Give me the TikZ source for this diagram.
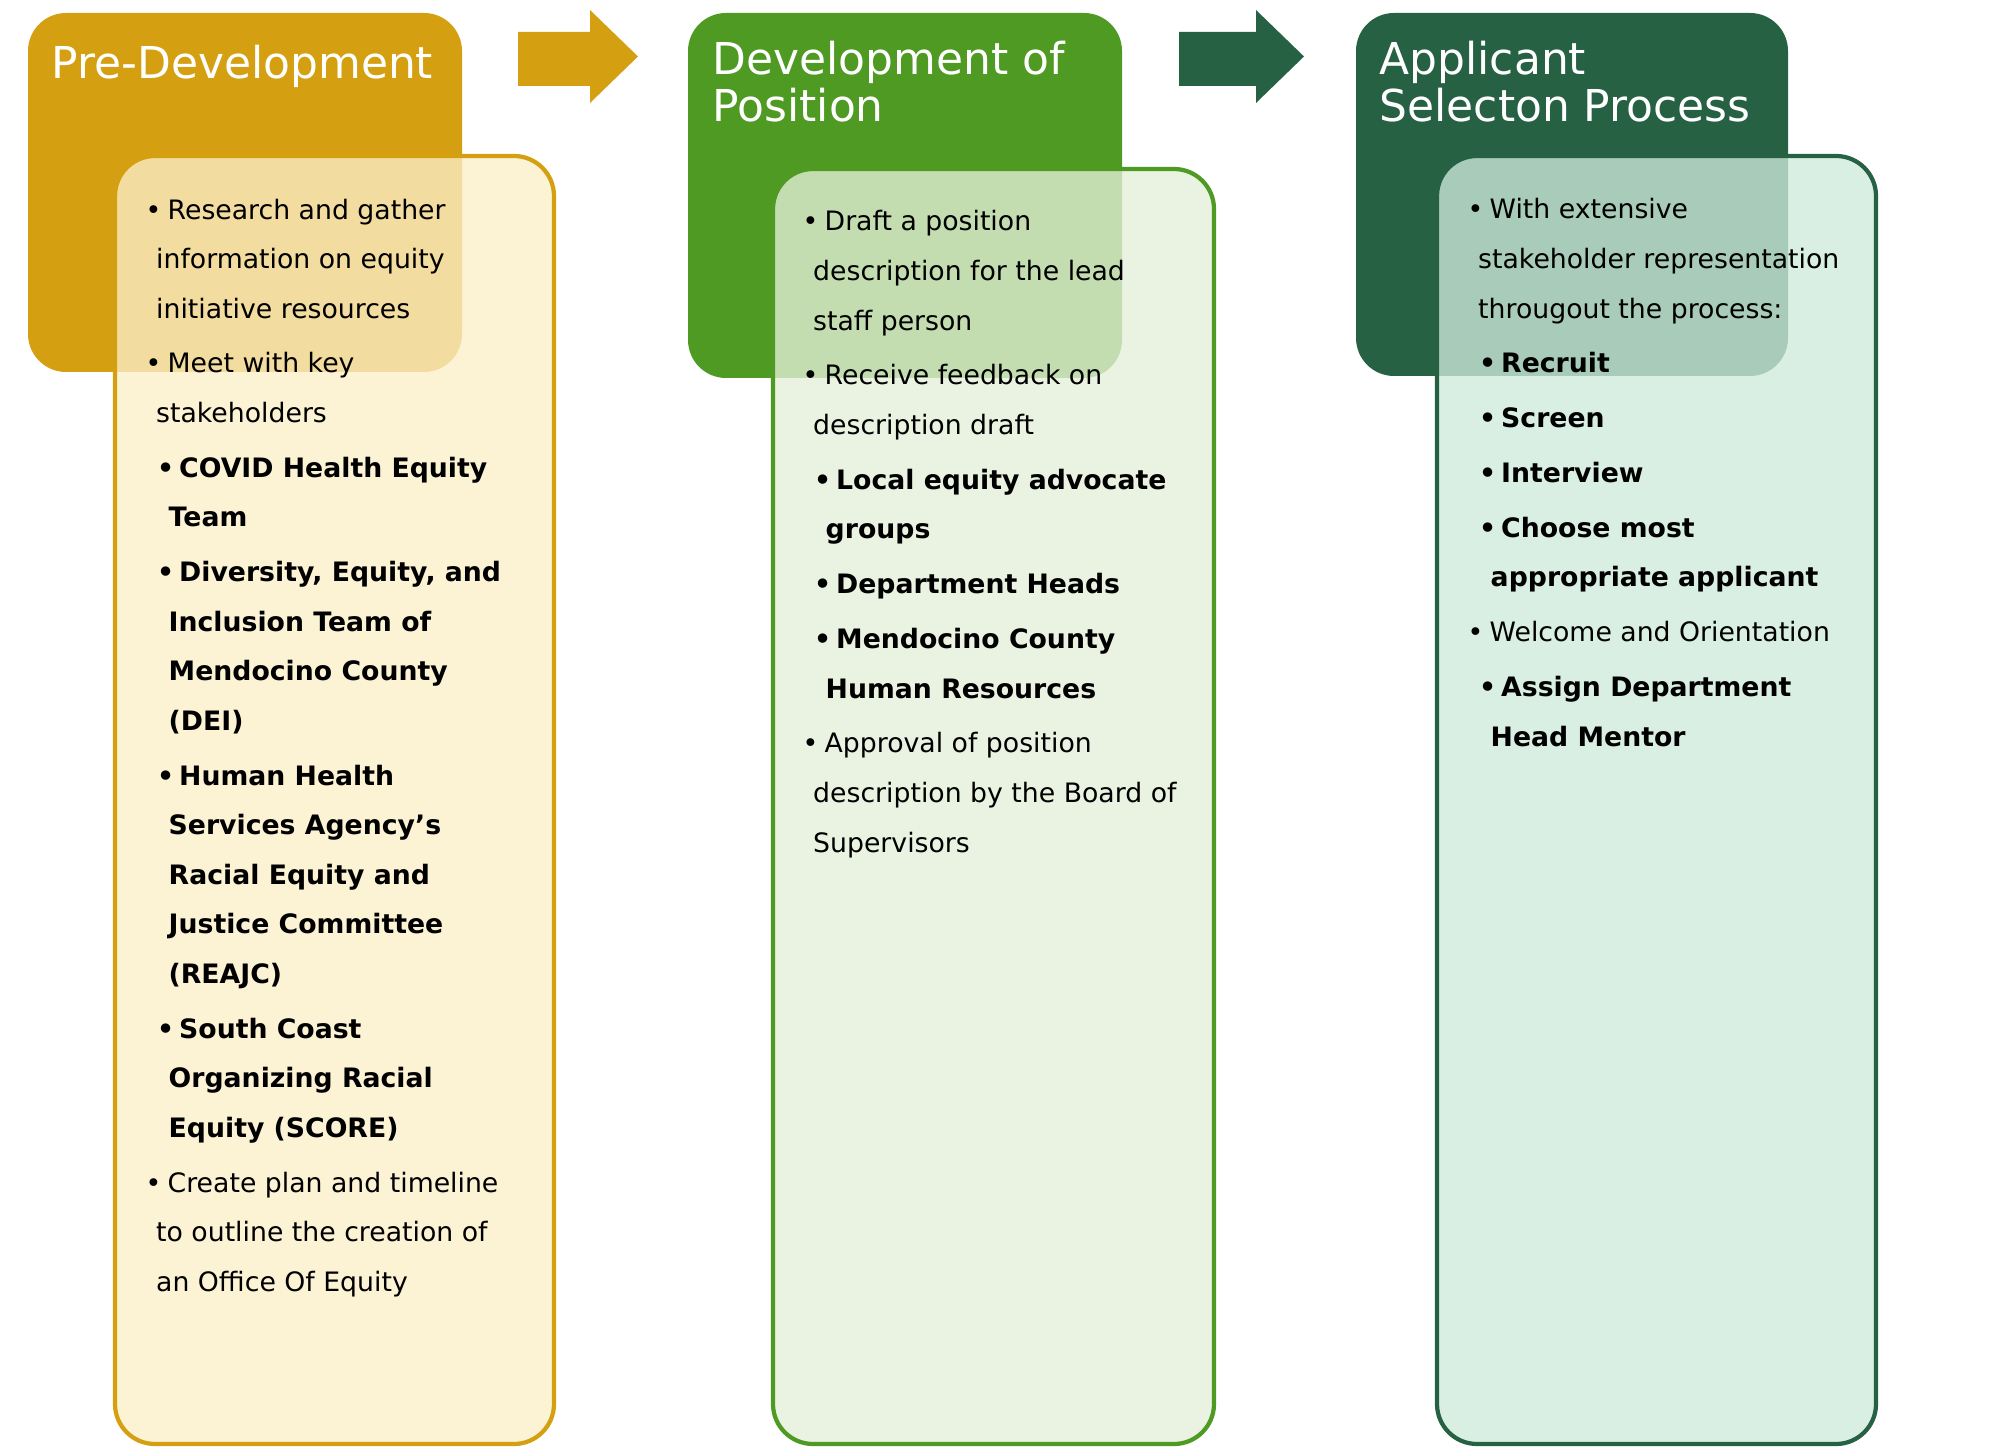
\documentclass[tikz,border=0pt]{standalone}
\usepackage{fontspec}
\setmainfont{DejaVu Sans}
\usetikzlibrary{positioning}
\definecolor{gold}{HTML}{D4A011}
\definecolor{goldlight}{HTML}{FBEEC8}
\definecolor{leaf}{HTML}{4E9A22}
\definecolor{leaflight}{HTML}{E4EFD9}
\definecolor{pine}{HTML}{266144}
\definecolor{pinelight}{HTML}{CFEADB}
\newcommand\bul{\makebox[0.22cm][l]{\textbullet}}
\newcommand\cnt{\hspace*{0.105cm}}
\newcommand\sbul{\hspace*{0.115cm}\makebox[0.22cm][l]{\textbullet}}
\newcommand\scnt{\hspace*{0.23cm}}
\begin{document}
\begin{tikzpicture}[
  head/.style={rounded corners=0.38cm, draw=none},
  body/.style={rounded corners=0.4cm, line width=1.2pt, fill opacity=0.78},
  title/.style={anchor=north west, text=white, font=\fontsize{12.5}{13.5}\selectfont, align=left, inner sep=0pt},
  list/.style={anchor=north west, font=\fontsize{7.6}{14.1}\selectfont, align=left, inner sep=0pt},
  flow/.style={draw=none}
]
\useasboundingbox (0,0) rectangle (20,-14.56);

% Headers
\fill[head, gold] (0.28,-0.13) rectangle (4.62,-3.72);
\fill[head, leaf] (6.88,-0.13) rectangle (11.22,-3.78);
\fill[head, pine] (13.56,-0.13) rectangle (17.88,-3.76);

% Bodies
\draw[body, draw=gold, fill=goldlight] (1.15,-1.56) rectangle (5.54,-14.44);
\draw[body, draw=leaf, fill=leaflight] (7.73,-1.69) rectangle (12.14,-14.44);
\draw[body, draw=pine, fill=pinelight] (14.37,-1.56) rectangle (18.76,-14.44);

% Arrows between stages
\fill[flow, gold] (5.18,-0.32) -- (5.90,-0.32) -- (5.90,-0.10) -- (6.38,-0.565)
  -- (5.90,-1.03) -- (5.90,-0.86) -- (5.18,-0.86) -- cycle;
\fill[flow, pine] (11.79,-0.32) -- (12.56,-0.32) -- (12.56,-0.10) -- (13.04,-0.565)
  -- (12.56,-1.03) -- (12.56,-0.86) -- (11.79,-0.86) -- cycle;

% Titles
\node[title] (pre) at (0.51,-0.44) {Pre-Development};
\node[title] (dev) at (7.12,-0.40) {Development of\\Position};
\node[title] (sel) at (13.79,-0.40) {Applicant\\Selecton Process};

% Lists
\node[list] (prelist) at (1.45,-1.98) {%
\bul Research and gather\\
\cnt information on equity\\
\cnt initiative resources\\[1.5pt]
\bul Meet with key\\
\cnt stakeholders\\[1.5pt]
\textbf{\sbul COVID Health Equity}\\
\textbf{\scnt Team}\\[1.5pt]
\textbf{\sbul Diversity, Equity, and}\\
\textbf{\scnt Inclusion Team of}\\
\textbf{\scnt Mendocino County}\\
\textbf{\scnt (DEI)}\\[1.5pt]
\textbf{\sbul Human Health}\\
\textbf{\scnt Services Agency's}\\
\textbf{\scnt Racial Equity and}\\
\textbf{\scnt Justice Committee}\\
\textbf{\scnt (REAJC)}\\[1.5pt]
\textbf{\sbul South Coast}\\
\textbf{\scnt Organizing Racial}\\
\textbf{\scnt Equity (SCORE)}\\[1.5pt]
\bul Create plan and timeline\\
\cnt to outline the creation of\\
\cnt an Office Of Equity};

\node[list] (devlist) at (8.02,-2.10) {%
\bul Draft a position\\
\cnt description for the lead\\
\cnt staff person\\[1.5pt]
\bul Receive feedback on\\
\cnt description draft\\[1.5pt]
\textbf{\sbul Local equity advocate}\\
\textbf{\scnt groups}\\[1.5pt]
\textbf{\sbul Department Heads}\\[1.5pt]
\textbf{\sbul Mendocino County}\\
\textbf{\scnt Human Resources}\\[1.5pt]
\bul Approval of position\\
\cnt description by the Board of\\
\cnt Supervisors};

\node[list] (sellist) at (14.67,-1.98) {%
\bul With extensive\\
\cnt stakeholder representation\\
\cnt througout the process:\\[1.5pt]
\textbf{\sbul Recruit}\\[1.5pt]
\textbf{\sbul Screen}\\[1.5pt]
\textbf{\sbul Interview}\\[1.5pt]
\textbf{\sbul Choose most}\\
\textbf{\scnt appropriate applicant}\\[1.5pt]
\bul Welcome and Orientation\\[1.5pt]
\textbf{\sbul Assign Department}\\
\textbf{\scnt Head Mentor}};

\end{tikzpicture}
\end{document}
